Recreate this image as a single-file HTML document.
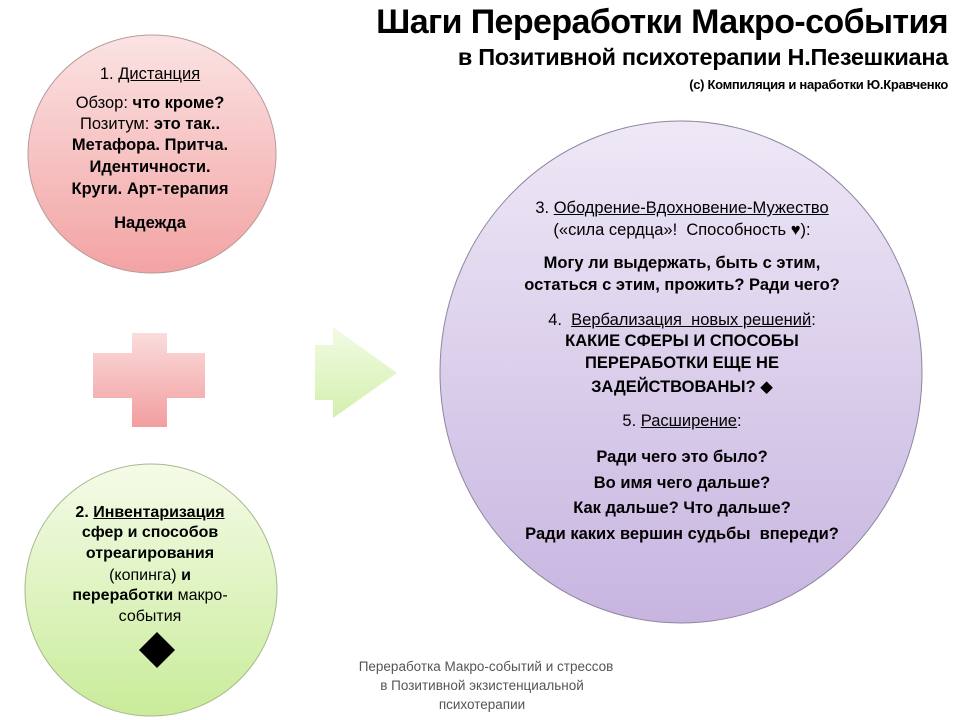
<!DOCTYPE html>
<html><head><meta charset="utf-8"><style>
html,body{margin:0;padding:0;background:#fff;}
#c{position:relative;width:960px;height:720px;overflow:hidden;font-family:"Liberation Sans","DejaVu Sans",sans-serif;}
.l{position:absolute;white-space:nowrap;text-align:center;transform:translateX(-50%);color:#000;line-height:1;}
.b{font-weight:bold;}
u{text-decoration:underline;}
</style></head><body><div id="c">
<svg width="960" height="720" style="position:absolute;left:0;top:0">
<defs>
<linearGradient id="gr" x1="0" y1="0" x2="0" y2="1"><stop offset="0" stop-color="#fbe3e3"/><stop offset="1" stop-color="#f3a3a3"/></linearGradient>
<linearGradient id="gg" x1="0" y1="0" x2="0" y2="1"><stop offset="0" stop-color="#f5fbe8"/><stop offset="1" stop-color="#c9ec9a"/></linearGradient>
<linearGradient id="gp" x1="0" y1="0" x2="0" y2="1"><stop offset="0" stop-color="#eee8f6"/><stop offset="1" stop-color="#c7b5e0"/></linearGradient>
<linearGradient id="gx" x1="0" y1="0" x2="0" y2="1"><stop offset="0" stop-color="#fadcdc"/><stop offset="1" stop-color="#f29e9e"/></linearGradient>
<linearGradient id="ga" x1="0" y1="0" x2="0" y2="1"><stop offset="0" stop-color="#f2fbe4"/><stop offset="1" stop-color="#d3f0ae"/></linearGradient>
</defs>
<ellipse cx="152" cy="154" rx="124" ry="119" fill="url(#gr)" stroke="#b89a9a" stroke-width="1"/>
<ellipse cx="151" cy="590" rx="126" ry="126" fill="url(#gg)" stroke="#a9b88f" stroke-width="1"/>
<ellipse cx="681" cy="372" rx="241" ry="251" fill="url(#gp)" stroke="#8f86a0" stroke-width="1"/>
<path d="M132 333H167V353H205V398H167V427H132V398H93V353H132Z" fill="url(#gx)"/>
<path d="M315 345H333V327L397 373L333 418V400H315Z" fill="url(#ga)"/>
<path d="M157 632L175 650L157 668L139 650Z" fill="#000"/>
</svg>

<div class="l b" style="right:12px;left:auto;transform:none;top:5px;font-size:34px;letter-spacing:-0.6px">Шаги Переработки Макро-события</div>
<div class="l b" style="right:12px;left:auto;transform:none;top:46px;font-size:23.5px;letter-spacing:-0.3px">в Позитивной психотерапии Н.Пезешкиана</div>
<div class="l b" style="right:12px;left:auto;transform:none;top:78px;font-size:13px;letter-spacing:-0.3px">(с) Компиляция и наработки Ю.Кравченко</div>

<div style="font-size:16.5px">
<div class="l" style="left:150px;top:66px">1. <u>Дистанция</u></div>
<div class="l b" style="left:150px;top:95px"><span style="font-weight:normal">Обзор:</span> что кроме?</div>
<div class="l b" style="left:150px;top:116px"><span style="font-weight:normal">Позитум:</span> это так..</div>
<div class="l b" style="left:150px;top:137px">Метафора. Притча.</div>
<div class="l b" style="left:150px;top:159px">Идентичности.</div>
<div class="l b" style="left:150px;top:181px">Круги. Арт-терапия</div>
<div class="l b" style="left:150px;top:215px">Надежда</div>
</div>

<div style="font-size:16px">
<div class="l b" style="left:150px;top:505px">2. <u>Инвентаризация</u></div>
<div class="l b" style="left:150px;top:525px">сфер и способов</div>
<div class="l b" style="left:150px;top:546px">отреагирования</div>
<div class="l b" style="left:150px;top:568px"><span style="font-weight:normal">(копинга)</span> и</div>
<div class="l b" style="left:150px;top:588px">переработки <span style="font-weight:normal">макро-</span></div>
<div class="l" style="left:150px;top:609px">события</div>
</div>

<div style="font-size:16.5px">
<div class="l" style="left:682px;top:200px">3. <u>Ободрение-Вдохновение-Мужество</u></div>
<div class="l" style="left:682px;top:222px">(«сила сердца»!&nbsp; Способность <b>♥</b>):</div>
<div class="l b" style="left:682px;top:255px">Могу ли выдержать, быть с этим,</div>
<div class="l b" style="left:682px;top:277px">остаться с этим, прожить? Ради чего?</div>
<div class="l" style="left:682px;top:312px">4.&nbsp; <u>Вербализация&nbsp; новых решений</u>:</div>
<div class="l b" style="left:682px;top:333px">КАКИЕ СФЕРЫ И СПОСОБЫ</div>
<div class="l b" style="left:682px;top:355px">ПЕРЕРАБОТКИ ЕЩЕ НЕ</div>
<div class="l b" style="left:682px;top:379px">ЗАДЕЙСТВОВАНЫ? ◆</div>
<div class="l" style="left:682px;top:413px">5. <u>Расширение</u>:</div>
<div class="l b" style="left:682px;top:449px">Ради чего это было?</div>
<div class="l b" style="left:682px;top:475px">Во имя чего дальше?</div>
<div class="l b" style="left:682px;top:500px">Как дальше? Что дальше?</div>
<div class="l b" style="left:682px;top:526px">Ради каких вершин судьбы&nbsp; впереди?</div>
</div>

<div style="font-size:13.5px;color:#555">
<div class="l" style="left:486px;top:660px;color:#555">Переработка Макро-событий и стрессов</div>
<div class="l" style="left:482px;top:679px;color:#555">в Позитивной экзистенциальной</div>
<div class="l" style="left:482px;top:698px;color:#555">психотерапии</div>
</div>
</div></body></html>
